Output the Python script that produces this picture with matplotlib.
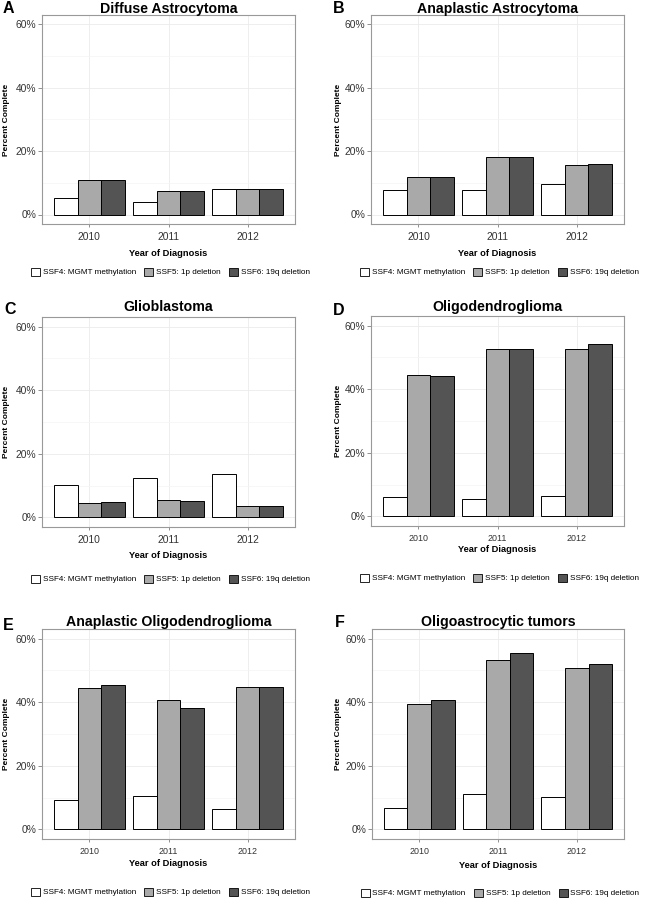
import numpy as np
import matplotlib.pyplot as plt
from matplotlib.patches import Patch

plt.rcParams['font.family'] = ['Liberation Sans', 'DejaVu Sans']

W, H = 645, 900

anos = ['2010', '2011', '2012']
series = ['SSF4: MGMT methylation', 'SSF5: 1p deletion', 'SSF6: 19q deletion']
cores = ['#FFFFFF', '#A9A9A9', '#545454']

titulos = ['Diffuse Astrocytoma', 'Anaplastic Astrocytoma', 'Glioblastoma',
           'Oligodendroglioma', 'Anaplastic Oligodendroglioma', 'Oligoastrocytic tumors']
letras = ['A', 'B', 'C', 'D', 'E', 'F']

# valores (%) por painel: [SSF4, SSF5, SSF6] x anos
diffuse_astro = [[5.3, 3.8, 8.2], [10.8, 7.3, 7.9], [10.8, 7.5, 7.9]]
anaplastic_astro = [[7.7, 7.7, 9.5], [11.9, 18.3, 15.6], [11.9, 18.3, 15.9]]
glioblastoma = [[10.1, 12.4, 13.8], [4.7, 5.5, 3.7], [5.0, 5.3, 3.7]]
oligodendro = [[6.2, 5.5, 6.5], [44.4, 52.5, 52.5], [44.1, 52.5, 54.3]]
anaplastic_oligo = [[9.3, 10.5, 6.5], [44.3, 40.8, 44.9], [45.3, 38.3, 44.9]]
oligoastro = [[6.8, 11.2, 10.3], [39.5, 53.2, 50.6], [40.6, 55.4, 51.9]]
dados = [diffuse_astro, anaplastic_astro, glioblastoma,
         oligodendro, anaplastic_oligo, oligoastro]

# caixas dos paineis em pixels: esquerda, topo, direita, base
caixas = [(42, 15, 295, 224), (371, 15, 624, 224),
          (42, 317, 295, 527), (371, 316, 624, 526),
          (42, 629, 295, 839), (372, 629, 624, 839)]
# posicoes y (px) de: titulo eixo x, legenda
pos_y = [(253, 272), (253, 272),
         (556, 579), (550, 578),
         (863, 892), (865, 893)]
titulo_base = [13, 13, 311, 311, 626, 626]
letra_xy = [(3, 13), (333, 13), (4, 314), (333, 315), (3, 630), (335, 627)]
ylab_x = [7, 338, 7, 338, 7, 338]
fs_xtick = [7.4, 7.4, 7.4, 6.4, 6.4, 6.4]

fig = plt.figure(figsize=(W / 100, H / 100), dpi=100)

x = np.arange(len(anos)) + 1
larg = 0.3

for i in range(6):
    l, t, r, b = caixas[i]
    ax = fig.add_axes([l / W, 1 - b / H, (r - l) / W, (b - t) / H])
    for k in range(3):
        ax.bar(x + (k - 1) * larg, dados[i][k], width=larg, color=cores[k],
               edgecolor='black', linewidth=0.7, zorder=3)
    ax.set_xlim(0.4, 3.6)
    ax.set_ylim(-3, 63)
    ax.set_yticks([0, 20, 40, 60])
    ax.set_yticklabels(['0%', '20%', '40%', '60%'])
    ax.set_yticks([10, 30, 50], minor=True)
    ax.set_xticks(x)
    ax.set_xticklabels(anos)
    ax.grid(True, which='major', color='#EBEBEB', linewidth=0.6, zorder=0)
    ax.grid(True, which='minor', axis='y', color='#F4F4F4', linewidth=0.5, zorder=0)
    ax.tick_params(axis='y', which='minor', length=0)
    ax.tick_params(axis='y', which='major', length=3.2, width=0.6, color='#7F7F7F',
                   pad=0.8, labelsize=7.4, labelcolor='#333333')
    ax.tick_params(axis='x', which='major', length=2.5, width=0.6, color='#7F7F7F',
                   pad=3, labelsize=fs_xtick[i], labelcolor='#333333')
    for s in ax.spines.values():
        s.set_color('#999999')
        s.set_linewidth(0.8)

    cx = (l + r) / 2
    fig.text(cx / W, 1 - titulo_base[i] / H, titulos[i], ha='center', va='baseline',
             fontsize=10.2, fontweight='bold')
    fig.text(letra_xy[i][0] / W, 1 - letra_xy[i][1] / H, letras[i], ha='left',
             va='baseline', fontsize=11.5, fontweight='bold')
    fig.text(ylab_x[i] / W, 1 - ((t + b) / 2) / H, 'Percent Complete', rotation=90,
             ha='center', va='center', fontsize=6.0, fontweight='bold')
    fig.text(cx / W, 1 - pos_y[i][0] / H, 'Year of Diagnosis', ha='center', va='center',
             fontsize=6.7, fontweight='bold')

    alcas = [Patch(facecolor=cores[k], edgecolor='black', linewidth=0.6) for k in range(3)]
    fig.legend(alcas, series, loc='center', ncol=3,
               bbox_to_anchor=((cx + 2) / W, 1 - pos_y[i][1] / H),
               frameon=False, fontsize=5.9, handlelength=1.1, handleheight=1.1,
               handletextpad=0.35, columnspacing=1.0, borderpad=0, borderaxespad=0)

fig.savefig('out.png', dpi=100)
